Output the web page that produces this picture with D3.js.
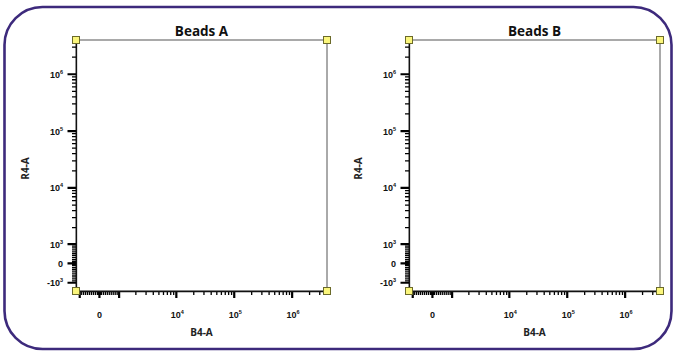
<!DOCTYPE html>
<html>
<head>
<meta charset="utf-8">
<script src="https://cdn.jsdelivr.net/npm/d3@7/dist/d3.min.js"></script>
<style>
  html, body { margin: 0; padding: 0; background: #fff; }
  svg { display: block; }
</style>
</head>
<body>
<svg id="chart" width="676" height="352"></svg>
<script>
// Panels and axis names
const panelTitles = ["Beads A", "Beads B"];
const xAxisName = "B4-A";
const yAxisName = "R4-A";

// Biexponential axis ranges (data units)
const xRange = [-1190, 4.0e6];
const yRange = [-1435, 4.0e6];

// Labelled major ticks: value, mantissa text, exponent text
const xMajorLabels = [[0, "0", ""], [1e4, "10", "4"], [1e5, "10", "5"], [1e6, "10", "6"]];
const yMajorLabels = [[-1e3, "-10", "3"], [0, "0", ""], [1e3, "10", "3"], [1e4, "10", "4"], [1e5, "10", "5"], [1e6, "10", "6"]];
const majorTicks = [-1e3, 0, 1e3, 1e4, 1e5, 1e6];
const minorMultipliers = [2, 3, 4, 5, 6, 7, 8, 9];

// Gate drawn on each panel, in data units
const gateX = [-1190, 4.0e6];
const gateY = [-1435, 4.0e6];

// Linear region width of the hybrid lin/log transform
const LIN = 1277;
function biex(v) {
  const m = Math.abs(v);
  if (m <= LIN) return v / (LIN * Math.LN10);
  return Math.sign(v) * (Math.log10(m / LIN) + 1 / Math.LN10);
}

// Minor ticks: k*10^d on both sides of zero
const minorTicks = [10, 100, -10, -100];
[1, 2].forEach(d => minorMultipliers.forEach(k => {
  minorTicks.push(k * Math.pow(10, d), -k * Math.pow(10, d));
}));
[3, 4, 5, 6].forEach(d => minorMultipliers.forEach(k => {
  minorTicks.push(k * Math.pow(10, d));
  if (d === 3) minorTicks.push(-k * Math.pow(10, d));
}));

const svg = d3.select("#chart");

// Rounded frame around the figure
svg.append("rect")
  .attr("x", 4.5).attr("y", 7)
  .attr("width", 667).attr("height", 342)
  .attr("rx", 38).attr("ry", 38)
  .attr("fill", "none")
  .attr("stroke", "#3d2a7c")
  .attr("stroke-width", 2.6);

const panelLefts = [76, 409];
const plotW = 251, plotH = 251, plotTop = 40;

panelTitles.forEach((title, i) => {
  const g = svg.append("g").attr("transform", `translate(${panelLefts[i]},${plotTop})`);

  const x = d3.scaleLinear().domain(xRange.map(biex)).range([0, plotW]);
  const y = d3.scaleLinear().domain(yRange.map(biex)).range([plotH, 0]);
  const px = v => x(biex(v));
  const py = v => y(biex(v));
  const inX = v => v >= xRange[0] && v <= xRange[1];
  const inY = v => v >= yRange[0] && v <= yRange[1];

  // Title
  g.append("text")
    .attr("x", plotW / 2).attr("y", -4)
    .attr("text-anchor", "middle")
    .attr("font-family", "'Open Sans', sans-serif")
    .attr("font-weight", 700)
    .attr("font-size", 13.5)
    .attr("fill", "#111")
    .text(title);

  // Gate outline
  g.append("rect")
    .attr("x", px(gateX[0])).attr("y", py(gateY[1]))
    .attr("width", px(gateX[1]) - px(gateX[0]))
    .attr("height", py(gateY[0]) - py(gateY[1]))
    .attr("fill", "none")
    .attr("stroke", "#555")
    .attr("stroke-width", 1);

  // Tick paths built from the scales
  const tickPath = (vals, len, horiz) => {
    const p = d3.path();
    vals.forEach(v => {
      if (horiz) { const yy = py(v); p.moveTo(0, yy); p.lineTo(-len, yy); }
      else { const xx = px(v); p.moveTo(xx, plotH); p.lineTo(xx, plotH + len); }
    });
    return p.toString();
  };

  // Y axis
  g.append("path").attr("d", tickPath(minorTicks.filter(inY), 4, true))
    .attr("fill", "none").attr("stroke", "#000").attr("stroke-width", 1.3);
  g.append("path").attr("d", tickPath(majorTicks.filter(inY), 8.5, true))
    .attr("fill", "none").attr("stroke", "#000").attr("stroke-width", 2.2);
  g.append("line")
    .attr("x1", 0.5).attr("x2", 0.5).attr("y1", 0).attr("y2", plotH)
    .attr("stroke", "#111").attr("stroke-width", 1.3);

  // X axis
  g.append("path").attr("d", tickPath(minorTicks.filter(inX), 4, false))
    .attr("fill", "none").attr("stroke", "#000").attr("stroke-width", 1.3);
  g.append("path").attr("d", tickPath(majorTicks.filter(inX), 7, false))
    .attr("fill", "none").attr("stroke", "#000").attr("stroke-width", 2.2);
  g.append("line")
    .attr("x1", 0).attr("x2", plotW).attr("y1", plotH + 0.5).attr("y2", plotH + 0.5)
    .attr("stroke", "#111").attr("stroke-width", 1.3);

  // Tick labels with superscript exponents
  const labelFont = "'Liberation Sans', Arial, sans-serif";
  const yl = g.append("g").selectAll("text").data(yMajorLabels.filter(d => inY(d[0]))).join("text")
    .attr("x", -13)
    .attr("y", d => py(d[0]) + 3.5)
    .attr("text-anchor", "end")
    .attr("font-family", labelFont).attr("font-weight", 700)
    .attr("font-size", 9).attr("fill", "#111");
  yl.append("tspan").text(d => d[1]);
  yl.append("tspan").attr("dy", -4).attr("font-size", 5.5).text(d => d[2]);

  const xl = g.append("g").selectAll("text").data(xMajorLabels.filter(d => inX(d[0]))).join("text")
    .attr("x", d => px(d[0]) + (d[2] ? 1 : 0))
    .attr("y", plotH + 27)
    .attr("text-anchor", "middle")
    .attr("font-family", labelFont).attr("font-weight", 700)
    .attr("font-size", 9).attr("fill", "#111");
  xl.append("tspan").text(d => d[1]);
  xl.append("tspan").attr("dy", -4).attr("font-size", 5.5).text(d => d[2]);

  // Axis names
  g.append("text")
    .attr("x", plotW / 2).attr("y", plotH + 45)
    .attr("text-anchor", "middle")
    .attr("font-family", "'Open Sans', sans-serif").attr("font-weight", 700)
    .attr("font-size", 10).attr("fill", "#222")
    .text(xAxisName);
  g.append("text")
    .attr("transform", `translate(-47,${py(2.2e4)}) rotate(-90)`)
    .attr("text-anchor", "middle")
    .attr("font-family", "'Open Sans', sans-serif").attr("font-weight", 700)
    .attr("font-size", 10).attr("fill", "#222")
    .text(yAxisName);

  // Gate corner handles
  const corners = [[gateX[0], gateY[0]], [gateX[1], gateY[0]], [gateX[1], gateY[1]], [gateX[0], gateY[1]]];
  g.append("g").selectAll("rect").data(corners).join("rect")
    .attr("x", d => px(d[0]) - 3.5)
    .attr("y", d => py(d[1]) - 3.5)
    .attr("width", 7).attr("height", 7)
    .attr("fill", "#fbf67c")
    .attr("stroke", "#6b6a2a")
    .attr("stroke-width", 1);
});
</script>
</body>
</html>
